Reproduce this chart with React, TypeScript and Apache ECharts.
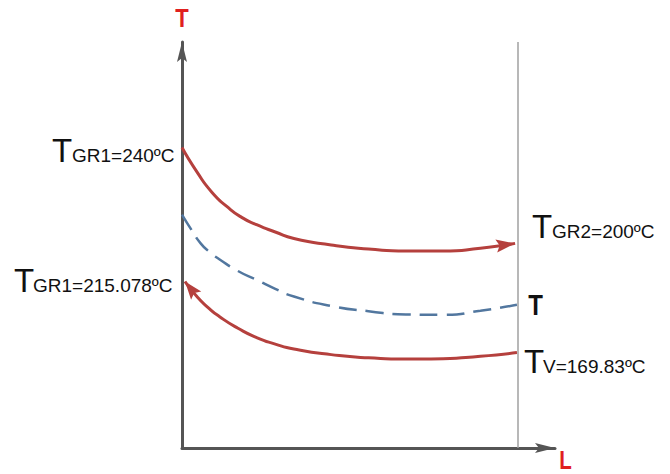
import React, { useEffect, useRef } from "react";
import * as echarts from "echarts";

// Hot stream (top red curve), flows left -> right
const hotL = [0, 4, 8, 12, 16, 20, 25, 30, 40, 50, 60, 70, 80, 89.3];
const hotT = [74, 68, 63, 59.5, 56.8, 55, 53.2, 51.6, 50.0, 49.0, 48.5, 48.5, 49.2, 50.4];
// Wall temperature (dashed blue curve)
const midL = [0, 2.5, 5, 7.5, 10, 15, 20, 25, 30, 40, 50, 60, 70, 80, 89.8];
const midT = [57.5, 53.8, 50.4, 48.2, 46.5, 43.6, 41.4, 39.2, 37.3, 35.0, 33.7, 32.9, 32.8, 33.8, 35.3];
// Cold stream (bottom red curve), flows right -> left
const coldL = [89.8, 80, 70, 60, 50, 40, 30, 25, 20, 15, 10, 7, 4, 0.8];
const coldT = [23.5, 22.6, 22.0, 21.9, 22.2, 23.0, 24.4, 25.6, 27.2, 29.5, 32.4, 34.6, 37.3, 41.0];
// Right boundary
const wallL = 90;

const labelMain = ["T", "T", "T", "T"];
const labelSub = ["GR1=240ºC", "GR2=200ºC", "GR1=215.078ºC", "V=169.83ºC"];
const axisNames = ["T", "L"];
const wallName = "T";

const FONT = '"Liberation Sans", Arial, Helvetica, sans-serif';
const RED = "#b5403d";
const BLUE = "#52779f";
const AXIS = "#555555";
const LABEL_RED = "#e0201f";

export default function App() {
  const ref = useRef<HTMLDivElement>(null);
  useEffect(() => {
    const chart = echarts.init(ref.current!, null, { renderer: "svg" });
    const pts = (xs: number[], ys: number[]) => xs.map((x, i) => [x, ys[i]]);
    const arrowPath = "path://M5,0L10,20L5,16L0,20Z";
    const axisCommon = {
      type: "value",
      min: 0,
      max: 100,
      axisLine: {
        show: true,
        lineStyle: { color: AXIS, width: 3 },
        symbol: ["none", arrowPath],
        symbolSize: [11, 20],
        symbolOffset: [0, -10],
      },
      axisTick: { show: false },
      axisLabel: { show: false },
      splitLine: { show: false },
    };
    chart.setOption({
      animation: false,
      grid: { left: 182, top: 42, right: 115, bottom: 26 },
      xAxis: { ...axisCommon },
      yAxis: { ...axisCommon },
      series: [
        {
          type: "line",
          data: pts(midL, midT),
          smooth: 0.6,
          showSymbol: false,
          lineStyle: { color: BLUE, width: 2.5, type: [18, 9] },
          markLine: {
            silent: true,
            symbol: ["none", "none"],
            label: { show: false },
            lineStyle: { color: "#a0a0a0", width: 1.5, type: "solid" },
            data: [{ xAxis: wallL }],
          },
          z: 2,
        },
        {
          type: "line",
          data: pts(hotL, hotT),
          smooth: 0.6,
          showSymbol: false,
          lineStyle: { color: RED, width: 3 },
          z: 3,
        },
        {
          type: "line",
          data: pts(coldL, coldT),
          smooth: 0.6,
          showSymbol: false,
          lineStyle: { color: RED, width: 3 },
          z: 3,
        },
      ],
    });

    const head = (xs: number[], ys: number[], len: number, half: number) => {
      const n = xs.length;
      const tip = chart.convertToPixel({ gridIndex: 0 }, [xs[n - 1], ys[n - 1]]) as number[];
      const prev = chart.convertToPixel({ gridIndex: 0 }, [xs[n - 2], ys[n - 2]]) as number[];
      let dx = tip[0] - prev[0];
      let dy = tip[1] - prev[1];
      const d = Math.hypot(dx, dy);
      dx /= d;
      dy /= d;
      const bx = tip[0] - dx * len;
      const by = tip[1] - dy * len;
      const nx = -dy;
      const ny = dx;
      const notch = [tip[0] - dx * len * 0.82, tip[1] - dy * len * 0.82];
      return {
        type: "polygon",
        z: 100,
        silent: true,
        shape: {
          points: [
            tip,
            [bx + nx * half, by + ny * half],
            notch,
            [bx - nx * half, by - ny * half],
          ],
        },
        style: { fill: RED },
      };
    };

    const bigFs = 33;
    const subFs = 19;
    const mid = (base: number, fs: number) => base - 0.3465 * fs;
    const labelPos = [
      { tx: 52, sx: 72, base: 162 },
      { tx: 532, sx: 552, base: 238 },
      { tx: 14, sx: 33, base: 292 },
      { tx: 524, sx: 543, base: 373 },
    ];
    const texts: any[] = [];
    labelPos.forEach((p, i) => {
      texts.push({
        type: "text",
        x: p.tx,
        y: mid(p.base, bigFs),
        silent: true,
        style: { text: labelMain[i], fontSize: bigFs, fontFamily: FONT, fill: "#111", align: "left", verticalAlign: "middle" },
      });
      texts.push({
        type: "text",
        x: p.sx,
        y: mid(p.base, subFs),
        silent: true,
        style: { text: labelSub[i], fontSize: subFs, fontFamily: FONT, fill: "#111", align: "left", verticalAlign: "middle" },
      });
    });
    texts.push({
      type: "text",
      x: 535.5,
      y: mid(315, 30),
      scaleX: 0.8,
      silent: true,
      style: { text: wallName, fontSize: 30, fontWeight: "bold", fontFamily: FONT, fill: "#111", align: "center", verticalAlign: "middle" },
    });
    texts.push({
      type: "text",
      x: 182,
      y: mid(27, 25),
      scaleX: 0.88,
      silent: true,
      style: { text: axisNames[0], fontSize: 25, fontWeight: "bold", fontFamily: FONT, fill: LABEL_RED, align: "center", verticalAlign: "middle" },
    });
    texts.push({
      type: "text",
      x: 565.5,
      y: mid(469, 25),
      scaleX: 0.82,
      silent: true,
      style: { text: axisNames[1], fontSize: 25, fontWeight: "bold", fontFamily: FONT, fill: LABEL_RED, align: "center", verticalAlign: "middle" },
    });

    chart.setOption({
      graphic: [...texts, head(hotL, hotT, 19, 6.5), head(coldL, coldT, 18, 6.5)],
    });
    return () => chart.dispose();
  }, []);
  return <div ref={ref} style={{ position: "absolute", left: 0, top: 0, width: 670, height: 474 }} />;
}
